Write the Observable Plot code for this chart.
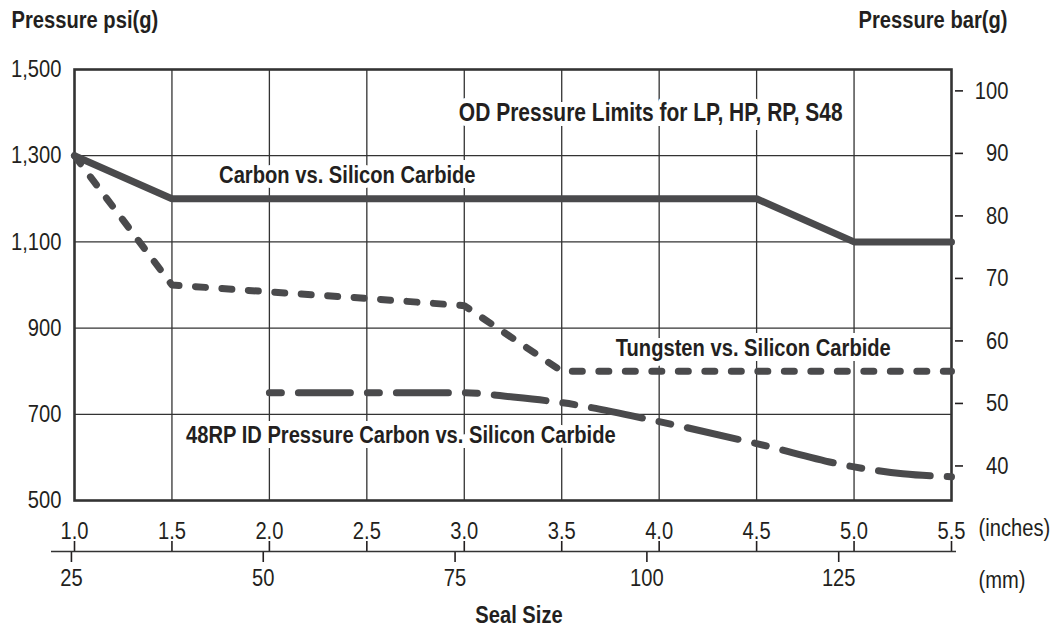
<!DOCTYPE html>
<html>
<head>
<meta charset="utf-8">
<script src="https://cdn.jsdelivr.net/npm/d3@7"></script>
<script src="https://cdn.jsdelivr.net/npm/@observablehq/plot@0.6"></script>
<style>
  html, body { margin: 0; padding: 0; background: #fff; }
  #chart svg { display: block; }
</style>
</head>
<body>
<div id="chart"></div>
<script>
// ---- data ----
const inchTicks = [1.0, 1.5, 2.0, 2.5, 3.0, 3.5, 4.0, 4.5, 5.0, 5.5];
const mmTicks = [25, 50, 75, 100, 125];
const psiTicks = [500, 700, 900, 1100, 1300, 1500];
const barTicks = [40, 50, 60, 70, 80, 90, 100];
const PSI_PER_BAR = 14.5038;
const MM_PER_INCH = 25.4;
const yDomain = [500, 1500];
const xDomain = [1.0, 5.5];

const carbonX = [1.0, 1.5, 4.5, 5.0, 5.5];
const carbonY = [1300, 1200, 1200, 1100, 1100];

const tungstenX = [1.0, 1.5, 2.0, 2.5, 3.0, 3.5, 4.0, 4.5, 5.0, 5.5];
const tungstenY = [1300, 1000, 984, 969, 952, 800, 800, 800, 800, 800];

const rpX = [2.0, 2.5, 3.0, 3.25, 3.5, 4.0, 4.5, 5.0, 5.25, 5.5];
const rpY = [750, 750, 750, 740, 727, 683, 632, 578, 562, 555];

const labels = [
  {text: "OD Pressure Limits for LP, HP, RP, S48", x: 2.972, y: 1400},
  {text: "Carbon vs. Silicon Carbide", x: 1.742, y: 1254},
  {text: "Tungsten vs. Silicon Carbide", x: 3.777, y: 853},
  {text: "48RP ID Pressure Carbon vs. Silicon Carbide", x: 1.572, y: 651}
];

const toPts = (xs, ys) => xs.map((x, i) => ({x, y: ys[i]}));
const ink = "#231f20";
const lineCol = "#4a4a4c";
const font = "'Liberation Sans', Arial, sans-serif";
const NARROW = 0.84;

const chart = Plot.plot({
  width: 1054,
  height: 629,
  marginLeft: 74,
  marginRight: 103,
  marginTop: 69,
  marginBottom: 129,
  x: {domain: xDomain},
  y: {domain: yDomain},
  style: {fontFamily: font, fontSize: "24px", color: ink, background: "#fff", overflow: "visible"},
  marks: [
    Plot.gridX({ticks: inchTicks.slice(1, -1), stroke: "#333", strokeOpacity: 1, strokeWidth: 1.3}),
    Plot.gridY({ticks: psiTicks.slice(1, -1), stroke: "#333", strokeOpacity: 1, strokeWidth: 1.3}),
    Plot.frame({stroke: "#333", strokeWidth: 2.6}),
    // left psi axis
    Plot.axisY({anchor: "left", ticks: psiTicks, tickSize: 0, tickPadding: 13, tickFormat: d3.format(","), label: null}),
    // right bar axis: ticks then labels
    Plot.axisY({anchor: "right", ticks: barTicks.map(b => b * PSI_PER_BAR), tickSize: 8, dx: 3, tickFormat: () => "", label: null, strokeWidth: 1.6}),
    Plot.axisY({anchor: "right", ticks: barTicks.map(b => b * PSI_PER_BAR), tickSize: 0, tickPadding: 0, dx: 57, textAnchor: "end", tickFormat: d => Math.round(d / PSI_PER_BAR), label: null}),
    // inches axis (ticks up from the baseline, labels above)
    Plot.axisX({anchor: "top", ticks: inchTicks, tickSize: 11, tickPadding: 2, dy: 482, tickFormat: d3.format(".1f"), label: null, strokeWidth: 1.6}),
    // mm axis (ticks down, labels below)
    Plot.axisX({anchor: "bottom", ticks: mmTicks.map(m => m / MM_PER_INCH), tickSize: 11, tickPadding: 6, dy: 51, tickFormat: d => Math.round(d * MM_PER_INCH), label: null, strokeWidth: 1.6}),
    Plot.ruleY([yDomain[0]], {dy: 51, insetLeft: -23, insetRight: -5, stroke: "#333", strokeWidth: 1.6}),
    // unit labels and titles
    Plot.text(["(inches)"], {frameAnchor: "bottom-right", lineAnchor: "middle", dx: 27, dy: 28, textAnchor: "start", fill: ink}),
    Plot.text(["(mm)"], {frameAnchor: "bottom-right", lineAnchor: "middle", dx: 27, dy: 80, textAnchor: "start", fill: ink}),
    Plot.text(["Seal Size"], {frameAnchor: "bottom", lineAnchor: "middle", dx: 6, dy: 115, fontWeight: "bold", fill: ink}),
    Plot.text(["Pressure psi(g)"], {frameAnchor: "top-left", lineAnchor: "middle", dx: -63, dy: -49, textAnchor: "start", fontWeight: "bold", fill: ink}),
    Plot.text(["Pressure bar(g)"], {frameAnchor: "top-right", lineAnchor: "middle", dx: 56, dy: -49, textAnchor: "end", fontWeight: "bold", fill: ink}),
    // series
    Plot.line(toPts(rpX, rpY), {x: "x", y: "y", curve: "monotone-x", stroke: lineCol, strokeWidth: 7, strokeLinecap: "round", strokeDasharray: "12 17 52 17"}),
    Plot.line(toPts(tungstenX, tungstenY), {x: "x", y: "y", stroke: lineCol, strokeWidth: 7, strokeLinecap: "round", strokeLinejoin: "round", strokeDasharray: "10 16.5"}),
    Plot.line(toPts(carbonX, carbonY), {x: "x", y: "y", stroke: lineCol, strokeWidth: 7, strokeLinejoin: "miter"}),
    // annotations
    Plot.text(labels, {x: "x", y: "y", text: "text", textAnchor: "start", fontWeight: "bold", fontSize: d => d.text.startsWith("OD") ? 25 : 24, fill: ink, stroke: "#fff", strokeWidth: 10, strokeLinejoin: "miter"})
  ]
});

// condense all text horizontally around its anchor (approximates a condensed typeface)
chart.querySelectorAll("text").forEach(el => {
  const ax = parseFloat(el.getAttribute("x")) || 0;
  const t = el.getAttribute("transform") || "";
  el.setAttribute("transform", `${t} translate(${ax},0) scale(${NARROW},1) translate(${-ax},0)`.trim());
});
document.getElementById("chart").appendChild(chart);
</script>
</body>
</html>
